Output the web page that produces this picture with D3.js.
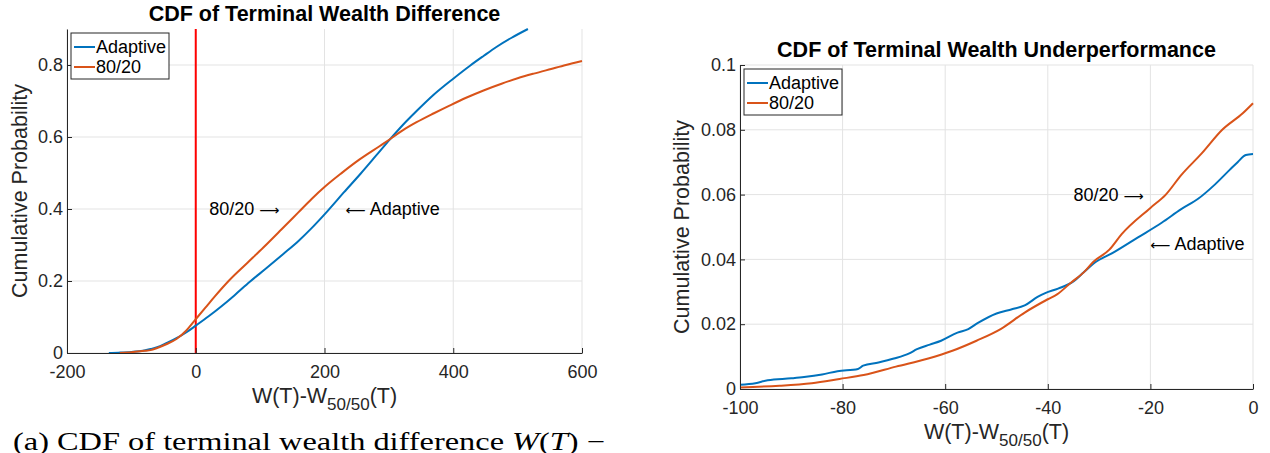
<html>
<head>
    <title>CDF of Terminal Wealth</title>
    <script src="https://d3js.org/d3.v7.min.js"></script>
    <style>
        body { margin: 0; background: #fff; }
        text { font-family: "Liberation Sans", Arial, sans-serif; fill: #262626; }
        .title { font-size: 21.5px; font-weight: bold; fill: #000; }
        .label { font-size: 21.5px; }
        .note { font-size: 18px; fill: #000; }
        .arrow { font-family: "DejaVu Sans", sans-serif; font-size: 14px; }
        .legend text { font-size: 18px; fill: #000; }
        .caption { font-family: "Liberation Serif", "DejaVu Serif", serif; font-size: 25px; fill: #000; }
    </style>
</head>
<body>
<div id="chart"></div>

<script type="text/javascript">

    // series names and colours (MATLAB defaults)
    var seriesNames = ['Adaptive', '80/20'];
    var seriesColors = ['#0072BD', '#D95319'];

    // left panel: CDF of terminal wealth difference
    var leftAdaptive = [[-135,0],[-120,0.001],[-100,0.003],[-80,0.007],[-70,0.011],[-60,0.016],[-45,0.028],
        [-30,0.041],[-15,0.057],[0,0.076],[20,0.102],[40,0.13],[60,0.16],[84,0.198],[110,0.236],[136,0.275],
        [160,0.312],[180,0.347],[205,0.395],[230,0.446],[256,0.498],[280,0.548],[301,0.592],[322,0.634],
        [343,0.672],[370,0.718],[400,0.762],[426,0.798],[447,0.825],[467,0.85],[490,0.875],[516,0.9]];
    var left8020 = [[-118,0],[-100,0.002],[-80,0.006],[-70,0.008],[-60,0.014],[-45,0.025],[-30,0.039],
        [-15,0.062],[0,0.094],[15,0.126],[30,0.158],[51,0.2],[80,0.25],[105,0.293],[133,0.343],[159,0.39],
        [180,0.428],[200,0.461],[226,0.499],[254,0.537],[286,0.575],[301,0.593],[322,0.619],[343,0.641],
        [370,0.666],[395,0.688],[420,0.709],[448,0.73],[475,0.748],[500,0.763],[525,0.776],[552,0.789],
        [575,0.8],[600,0.811]];
    var leftXTicks = [-200, 0, 200, 400, 600];
    var leftYTicks = [0, 0.2, 0.4, 0.6, 0.8];

    // right panel: zoom on the underperformance tail
    var rightAdaptive = [[-100,0.0013],[-97,0.0018],[-94.6,0.0027],[-90,0.0033],[-87.5,0.0037],[-84,0.0045],
        [-81,0.0055],[-77,0.0062],[-76,0.0072],[-73,0.0082],[-70,0.0094],[-67,0.011],[-65.5,0.0123],[-63,0.0137],
        [-60.8,0.0149],[-57.6,0.0174],[-55.5,0.0185],[-53.7,0.0203],[-50,0.0233],[-47,0.0246],[-44.5,0.0258],
        [-42,0.0284],[-40.5,0.0296],[-38,0.031],[-35,0.0332],[-33,0.036],[-31,0.0388],[-27,0.0423],[-22.5,0.0467],
        [-17.8,0.0513],[-14,0.0555],[-10.7,0.0587],[-7.5,0.063],[-4.5,0.0677],[-3,0.07],[-1.4,0.0722],[0,0.0725]];
    var right8020 = [[-100,0.0005],[-92.3,0.001],[-86,0.0018],[-80.6,0.0031],[-75.9,0.0043],[-69.6,0.0069],
        [-63.3,0.0094],[-58.6,0.0118],[-53.9,0.0149],[-49.2,0.0185],[-44.5,0.0236],[-40,0.0277],[-38.2,0.0292],
        [-35.5,0.0328],[-33,0.036],[-31.1,0.0393],[-28,0.043],[-25.6,0.0478],[-20,0.0559],[-17,0.06],
        [-14,0.066],[-10,0.0727],[-6,0.08],[-2,0.0851],[0,0.0882]];
    var rightXTicks = [-100, -80, -60, -40, -20, 0];
    var rightYTicks = [0, 0.02, 0.04, 0.06, 0.08, 0.1];

    var svg = d3.select("#chart").append("svg")
        .attr("width", 1270)
        .attr("height", 453);

    function drawPanel(p) {
        var x = d3.scaleLinear().domain(p.xDomain).range(p.xRange);
        var y = d3.scaleLinear().domain(p.yDomain).range(p.yRange);
        var g = svg.append("g");

        // grid
        g.selectAll(".gx").data(p.xTicks).enter().append("line")
            .attr("x1", function(d) { return x(d); }).attr("x2", function(d) { return x(d); })
            .attr("y1", p.yRange[0]).attr("y2", p.yRange[1])
            .attr("stroke", "#e3e3e3").attr("stroke-width", 1);
        g.selectAll(".gy").data(p.yTicks).enter().append("line")
            .attr("x1", p.xRange[0]).attr("x2", p.xRange[1])
            .attr("y1", function(d) { return y(d); }).attr("y2", function(d) { return y(d); })
            .attr("stroke", "#e3e3e3").attr("stroke-width", 1);

        // zero line (only on the left panel)
        if (p.zeroLine) {
            g.append("line")
                .attr("x1", x(0)).attr("x2", x(0))
                .attr("y1", p.yRange[0]).attr("y2", p.yRange[1])
                .attr("stroke", "#ff0000").attr("stroke-width", 2);
        }

        // curves
        var line = d3.line()
            .x(function(d) { return x(d[0]); })
            .y(function(d) { return y(d[1]); })
            .curve(d3.curveMonotoneX);
        p.series.forEach(function(s, i) {
            g.append("path")
                .datum(s)
                .attr("d", line)
                .attr("fill", "none")
                .attr("stroke", seriesColors[i])
                .attr("stroke-width", 2);
        });

        // axes, ticks point inward like matlab
        var fmt = function(d) { return String(+d.toFixed(2)); };
        var xAxis = g.append("g")
            .attr("transform", "translate(0," + p.yRange[0] + ")")
            .call(d3.axisBottom(x).tickValues(p.xTicks).tickFormat(fmt)
                .tickSizeInner(-5).tickSizeOuter(0).tickPadding(12));
        var yAxis = g.append("g")
            .attr("transform", "translate(" + p.xRange[0] + ",0)")
            .call(d3.axisLeft(y).tickValues(p.yTicks).tickFormat(fmt)
                .tickSizeInner(-5).tickSizeOuter(0).tickPadding(4));
        [xAxis, yAxis].forEach(function(a) {
            a.select(".domain").attr("stroke", "#262626");
            a.selectAll(".tick line").attr("stroke", "#262626");
            a.selectAll(".tick text").attr("fill", "#262626")
                .style("font-family", "Liberation Sans").style("font-size", "18px");
        });

        // title and labels
        var cx = (p.xRange[0] + p.xRange[1]) / 2;
        var cy = (p.yRange[0] + p.yRange[1]) / 2;
        g.append("text").attr("class", "title")
            .attr("x", cx).attr("y", p.titleY)
            .attr("text-anchor", "middle")
            .text(p.title);

        var xl = g.append("text").attr("class", "label")
            .attr("x", cx).attr("y", p.yRange[0] + 50)
            .attr("text-anchor", "middle");
        xl.append("tspan").text("W(T)-W");
        xl.append("tspan").attr("dy", 7).style("font-size", "17px").text("50/50");
        xl.append("tspan").attr("dy", -7).text("(T)");

        g.append("text").attr("class", "label")
            .attr("transform", "translate(" + p.yLabelX + "," + cy + ") rotate(-90)")
            .attr("text-anchor", "middle")
            .text("Cumulative Probability");

        // arrow notes placed at data coordinates
        p.notes.forEach(function(n) {
            var t = g.append("text").attr("class", "note")
                .attr("x", x(n.x)).attr("y", y(n.y))
                .attr("dy", "0.35em");
            if (n.side == "right") {
                t.append("tspan").text(n.text + " ");
                t.append("tspan").attr("class", "arrow").text("\u27F6");
            } else {
                t.append("tspan").attr("class", "arrow").text("\u27F5");
                t.append("tspan").text(" " + n.text);
            }
        });

        // legend
        var lg = g.append("g").attr("class", "legend")
            .attr("transform", "translate(" + (p.xRange[0] + 4) + "," + (p.yRange[1] + 4) + ")");
        lg.append("rect")
            .attr("width", 98).attr("height", 46)
            .attr("fill", "#fff").attr("stroke", "#262626").attr("stroke-width", 1);
        seriesNames.forEach(function(name, i) {
            var ly = 14 + i * 20;
            lg.append("line")
                .attr("x1", 3).attr("x2", 24)
                .attr("y1", ly).attr("y2", ly)
                .attr("stroke", seriesColors[i]).attr("stroke-width", 2);
            lg.append("text")
                .attr("x", 25).attr("y", ly).attr("dy", "0.35em")
                .text(name);
        });
    }

    drawPanel({
        xDomain: [-200, 600], xRange: [67, 582],
        yDomain: [0, 0.9], yRange: [353, 29],
        xTicks: leftXTicks, yTicks: leftYTicks,
        series: [leftAdaptive, left8020],
        zeroLine: true,
        title: "CDF of Terminal Wealth Difference", titleY: 21,
        yLabelX: 27,
        notes: [{x: 21, y: 0.4, text: "80/20", side: "right"}, {x: 233, y: 0.4, text: "Adaptive", side: "left"}]
    });

    drawPanel({
        xDomain: [-100, 0], xRange: [740, 1253],
        yDomain: [0, 0.1], yRange: [389, 65],
        xTicks: rightXTicks, yTicks: rightYTicks,
        series: [rightAdaptive, right8020],
        zeroLine: false,
        title: "CDF of Terminal Wealth Underperformance", titleY: 57,
        yLabelX: 689,
        notes: [{x: -35, y: 0.06, text: "80/20", side: "right"}, {x: -20, y: 0.045, text: "Adaptive", side: "left"}]
    });

    // sub-figure caption, cut off by the bottom edge as in the page
    var cap = svg.append("text").attr("class", "caption")
        .attr("x", 13).attr("y", 450)
        .attr("textLength", 592).attr("lengthAdjust", "spacingAndGlyphs");
    cap.append("tspan").text("(a) CDF of terminal wealth difference ");
    cap.append("tspan").style("font-style", "italic").text("W");
    cap.append("tspan").text("(");
    cap.append("tspan").style("font-style", "italic").text("T");
    cap.append("tspan").text(") \u2212");

</script>
</body>
</html>
